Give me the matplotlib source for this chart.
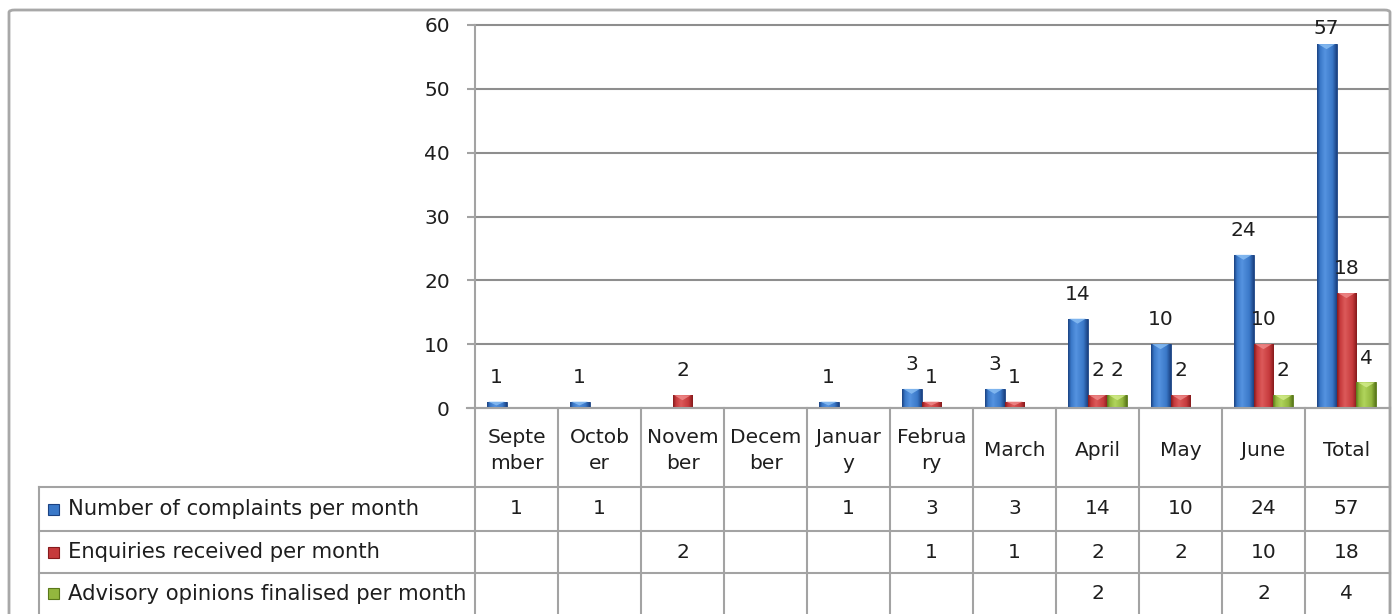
import matplotlib
matplotlib.use("Agg")
import matplotlib.pyplot as plt
import matplotlib.transforms as transforms
from matplotlib.colors import LinearSegmentedColormap
from matplotlib.patches import Rectangle, FancyBboxPatch, Polygon
import numpy as np

plt.rcParams['font.family'] = ['DejaVu Sans']

# data
categories = ['Septe\nmber', 'Octob\ner', 'Novem\nber', 'Decem\nber', 'Januar\ny',
              'Februa\nry', 'March', 'April', 'May', 'June', 'Total']
series_names = ['Number of complaints per month',
                'Enquiries received per month',
                'Advisory opinions finalised per month']
complaints = [1, 1, None, None, 1, 3, 3, 14, 10, 24, 57]
enquiries = [None, None, 2, None, None, 1, 1, 2, 2, 10, 18]
advisory = [None, None, None, None, None, None, None, 2, None, 2, 4]
series = [complaints, enquiries, advisory]

# styles: (dark edge, mid, highlight, bevel)
shades = [('#1b4282', '#3a78c8', '#5593e0', '#8cc0f4'),
          ('#861a1c', '#c63a3c', '#dc5a5a', '#f08c8c'),
          ('#5a781a', '#93b73e', '#b0d45c', '#d4ec8c')]
text_col = '#1e1e1e'
line_col = '#a3a3a3'
fs = 14.5
fs_names = 15.2

W, H = 1394, 614
fig = plt.figure(figsize=(W / 100, H / 100), dpi=100)

def fx(px):
    return px / W

def fy(py):
    return 1 - py / H

# outer chart border
fig.patches.append(FancyBboxPatch((fx(9), fy(640)), fx(1390) - fx(9), fy(10) - fy(640),
                                  boxstyle='round,pad=0,rounding_size=0.004',
                                  transform=fig.transFigure, fill=False,
                                  edgecolor='#a8a8a8', linewidth=2))

ax = fig.add_axes([fx(475), fy(408), fx(1388) - fx(475), fy(25) - fy(408)])
n = len(categories)
ax.set_xlim(-0.5, n - 0.5)
ax.set_ylim(0, 60)
ax.set_yticks(range(0, 61, 10))
ax.set_xticks([])
for s in ['top', 'right', 'bottom']:
    ax.spines[s].set_visible(False)
ax.spines['left'].set_color(line_col)
ax.spines['left'].set_linewidth(1.5)
ax.tick_params(axis='y', length=6, width=1.5, color=line_col, pad=12,
               labelsize=fs, labelcolor=text_col)
ax.yaxis.grid(True, color='#8e8e8e', linewidth=1.5)
ax.set_axisbelow(True)
for t in ax.yaxis.get_gridlines():
    t.set_clip_on(False)

width = 0.24
offsets = [-width, 0, width]
x = np.arange(n)
px_per_unit = 383 / 60.0

def gradient_cmap(shade):
    d, m, h = shade[:3]
    return LinearSegmentedColormap.from_list(
        'g', [(0, d), (0.15, m), (0.4, h), (0.78, m), (1, d)])

grad = np.linspace(0, 1, 64).reshape(1, -1)
for si, vals in enumerate(series):
    cmap = gradient_cmap(shades[si])
    for i, v in enumerate(vals):
        if v is None:
            continue
        bars = ax.bar(x[i] + offsets[si], v, width=width, color=shades[si][1],
                      edgecolor=shades[si][0], linewidth=0.6, zorder=2)
        b = bars[0]
        x0, x1 = b.get_x(), b.get_x() + b.get_width()
        im = ax.imshow(grad, cmap=cmap, aspect='auto', zorder=2.5,
                       extent=[x0, x1, 0, v])
        im.set_clip_path(b)
        # light bevel at the top of each bar
        d = min(5 / px_per_unit, v * 0.6)
        ax.add_patch(Polygon([(x0 + 0.02, v), (x1 - 0.02, v), ((x0 + x1) / 2, v - d)],
                             closed=True, facecolor=shades[si][3], edgecolor='none',
                             alpha=0.8, zorder=3))
        ytxt = min(v + 3.8, 59.5)
        ax.text(x[i] + offsets[si], ytxt, str(v), ha='center', va='center',
                fontsize=fs, color=text_col, zorder=4)
ax.set_xlim(-0.5, n - 0.5)
ax.set_ylim(0, 60)

# data table below the chart
blend = transforms.blended_transform_factory(ax.transData, fig.transFigure)
row_tops = [487, 531, 573, 614]
lkw = dict(color=line_col, linewidth=1.5, clip_on=False)

fig.add_artist(plt.Line2D([fx(467), fx(1390)], [fy(408), fy(408)], transform=fig.transFigure, **lkw))
for yy in row_tops[:3]:
    fig.add_artist(plt.Line2D([fx(39), fx(1390)], [fy(yy), fy(yy)], transform=fig.transFigure, **lkw))
fig.add_artist(plt.Line2D([fx(39), fx(39)], [fy(487), fy(614)], transform=fig.transFigure, **lkw))
fig.add_artist(plt.Line2D([fx(475), fx(475)], [fy(408), fy(614)], transform=fig.transFigure, **lkw))
fig.add_artist(plt.Line2D([fx(1390), fx(1390)], [fy(408), fy(614)], transform=fig.transFigure, **lkw))
for i in range(1, n):
    fig.add_artist(plt.Line2D([i - 0.5, i - 0.5], [fy(408), fy(614)], transform=blend, **lkw))

# header row
for i, c in enumerate(categories):
    fig.text(i, fy(450.5), c, transform=blend, ha='center', va='center',
             fontsize=fs, color=text_col, linespacing=1.5)

# value rows
for si, vals in enumerate(series):
    yc = (row_tops[si] + row_tops[si + 1]) / 2
    fig.patches.append(Rectangle((fx(48), fy(yc + 5.5)), fx(11), fy(0) - fy(11),
                                 transform=fig.transFigure, facecolor=shades[si][1],
                                 edgecolor=shades[si][0], linewidth=0.8))
    fig.text(fx(68), fy(yc), series_names[si], ha='left', va='center',
             fontsize=fs_names, color=text_col)
    for i, v in enumerate(vals):
        if v is None:
            continue
        fig.text(i, fy(yc), str(v), transform=blend, ha='center', va='center',
                 fontsize=fs, color=text_col)

fig.savefig('out.png', dpi=100)
